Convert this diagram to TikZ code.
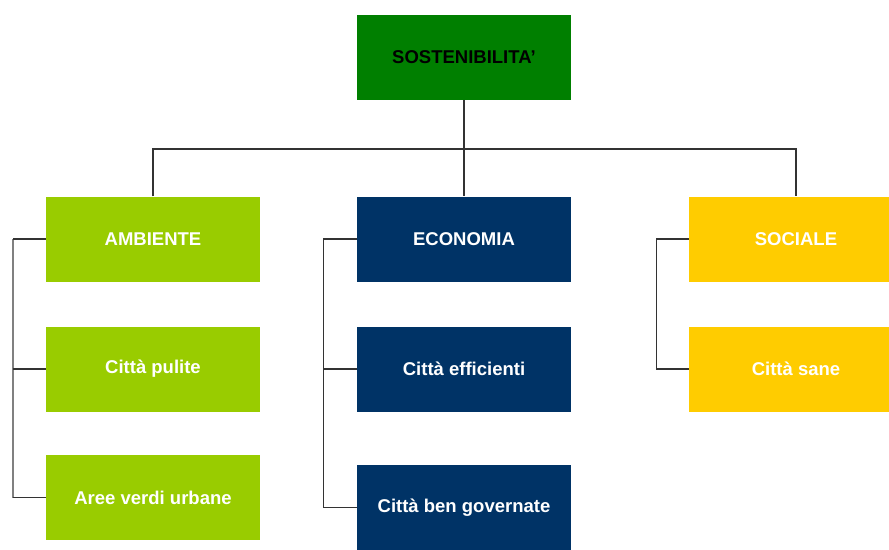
\documentclass[tikz,border=0pt]{standalone}
\usepackage{fontspec}
\setmainfont{Liberation Sans}
\definecolor{dkgreen}{HTML}{007F00}
\definecolor{ltgreen}{HTML}{99CC00}
\definecolor{navy}{HTML}{003366}
\definecolor{gold}{HTML}{FFCC00}
\begin{document}
\begin{tikzpicture}[x=1pt,y=-1pt,
  box/.style={rectangle, minimum width=214pt, minimum height=85pt, inner sep=0pt, text=white,
    font=\fontsize{18.5}{21}\selectfont\bfseries},
  conn/.style={draw=black!80, line width=1.3pt}]
\useasboundingbox (0,0) rectangle (889,549);
\node[box, fill=dkgreen, text=black, font=\fontsize{18.5}{21}\selectfont\bfseries] (s) at (464,57) {SOSTENIBILITA'};
\node[box, fill=ltgreen] (amb) at (153,239) {AMBIENTE};
\node[box, fill=ltgreen] (pul) at (153,369) {Città pulite};
\node[box, fill=ltgreen] (aree) at (153,497.5) {Aree verdi urbane};
\node[box, fill=navy] (eco) at (464,239) {ECONOMIA};
\node[box, fill=navy] (eff) at (464,369) {Città efficienti};
\node[box, fill=navy] (gov) at (464,507.5) {Città ben governate};
\node[box, fill=gold] (soc) at (796,239) {SOCIALE};
\node[box, fill=gold] (san) at (796,369) {Città sane};
\coordinate (bus) at (464,149);
\coordinate (ra) at (12.5,0);
\coordinate (re) at (323.5,0);
\coordinate (rs) at (656.5,0);
\draw[conn] (s.south) -- (eco.north);
\draw[conn] (amb.north) |- (bus) -| (soc.north);
% ambiente rail
\draw[draw=gray, line width=2pt] (amb.west -| ra) -- (aree.west -| ra);
\draw[conn] (amb.west) -- (amb.west -| ra);
\draw[conn] (pul.west) -- (pul.west -| ra);
\draw[conn] (aree.west) -- (aree.west -| ra);
% economia rail
\draw[conn] (eco.west) -- (eco.west -| re) -- (gov.west -| re) -- (gov.west);
\draw[conn] (eff.west) -- (eff.west -| re);
% sociale rail
\draw[conn] (soc.west) -- (soc.west -| rs) -- (san.west -| rs) -- (san.west);
\end{tikzpicture}
\end{document}
